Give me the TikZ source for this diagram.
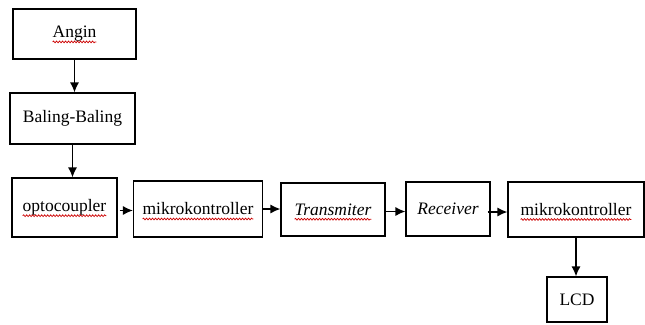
\documentclass[tikz,border=0pt]{standalone}
\usepackage{fontspec}
\setmainfont{Liberation Serif}
\usetikzlibrary{positioning,arrows.meta,decorations.pathmorphing}

\newcommand{\teks}{\fontsize{17.5}{21}\selectfont}
\newcommand{\ukur}[2]{\newlength{#1}\settowidth{#1}{\teks #2}}
\newcommand{\salah}[2]{%
  \draw[salah] ([xshift=-0.5#2,yshift=-4pt]#1.base) -- ++(\the#2,0pt);}

\tikzset{
  blok/.style={draw, line width=1.1pt, inner sep=0pt, font=\teks},
  panah/.style={line width=1.4pt, -{Latex[length=10pt,width=9pt]}},
  salah/.style={red!80!black, line width=0.7pt,
    decoration={snake, amplitude=0.9pt, segment length=3pt}, decorate}
}

\begin{document}
\ukur{\wangin}{Angin}
\ukur{\wopto}{optocoupler}
\ukur{\wmikro}{mikrokontroller}
\ukur{\wtrans}{\itshape Transmiter}
\begin{tikzpicture}[x=1pt,y=-1pt]
    \useasboundingbox (0,0) rectangle (645,324);
    \node[blok, minimum width=123pt, minimum height=50pt] (angin) at (74.5,34) {Angin};
    \node[blok, minimum width=125pt, minimum height=51pt] (baling) at (72.5,118.5) {Baling-Baling};
    \node[blok, minimum width=105pt, minimum height=59pt] (opto) at (64.5,207.5) {optocoupler};
    \node[blok, minimum width=129pt, minimum height=56pt] (mk1) at (198,209) {mikrokontroller};
    \node[blok, minimum width=104pt, minimum height=53pt] (trans) at (333,209.5) {\itshape Transmiter};
    \node[blok, minimum width=84pt, minimum height=54pt] (recv) at (448,209) {\itshape Receiver};
    \node[blok, minimum width=136pt, minimum height=55pt] (mk2) at (576,209.5) {mikrokontroller};
    \node[blok, minimum width=60pt, minimum height=45pt] (lcd) at (577,299.5) {LCD};

    \draw[panah] (angin.south) -- (angin.south |- baling.north);
    \draw[panah] (baling.south) -- (baling.south |- opto.north);
    \draw[panah, shorten <=2pt] ([yshift=-3pt]opto.east) -- ([yshift=-3pt]opto.east -| mk1.west);
    \draw[panah] (mk1.east) -- (mk1.east -| trans.west);
    \draw[panah] ([yshift=-2pt]trans.east) -- ([yshift=-2pt]trans.east -| recv.west);
    \draw[panah, shorten <=-3pt] ([yshift=-3pt]recv.east) -- ([yshift=-3pt]recv.east -| mk2.west);
    \draw[panah] (mk2.south) -- (mk2.south |- lcd.north);

    \salah{angin}{\wangin}
    \salah{opto}{\wopto}
    \salah{mk1}{\wmikro}
    \salah{trans}{\wtrans}
    \salah{mk2}{\wmikro}
\end{tikzpicture}
\end{document}
